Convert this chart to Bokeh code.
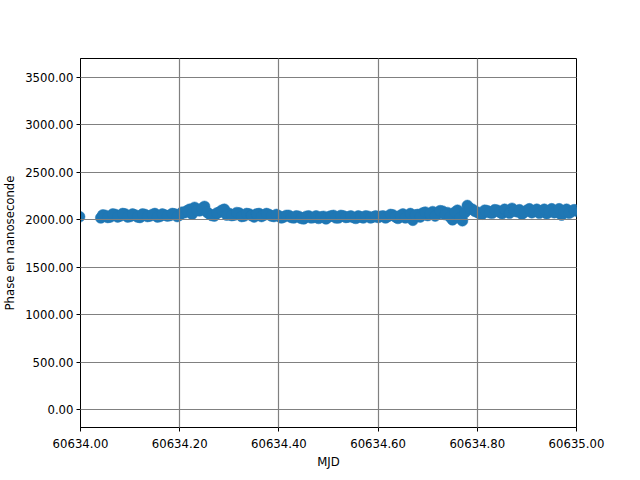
from bokeh.plotting import figure
from bokeh.models import Range1d, FixedTicker, PrintfTickFormatter, ColumnDataSource
from bokeh.embed import file_html
from bokeh.resources import INLINE

# MJD offsets (days after 60634) and phase values in nanoseconds
mjd_offsets = [-0.002,
    0.041, 0.050, 0.060, 0.070, 0.080, 0.090, 0.100, 0.110, 0.120, 0.130,
    0.140, 0.150, 0.160, 0.170, 0.180, 0.190, 0.200, 0.210, 0.220, 0.230,
    0.240, 0.250, 0.260, 0.270, 0.280, 0.290, 0.300, 0.310, 0.320, 0.330,
    0.340, 0.350, 0.360, 0.370, 0.380, 0.390, 0.400, 0.410, 0.420, 0.430,
    0.440, 0.450, 0.460, 0.470, 0.480, 0.490, 0.500, 0.510, 0.520, 0.530,
    0.540, 0.550, 0.560, 0.570, 0.580, 0.590, 0.600, 0.610, 0.620, 0.630,
    0.640, 0.650, 0.660, 0.670, 0.680, 0.690, 0.700, 0.710, 0.720, 0.730,
    0.740, 0.750, 0.760, 0.770, 0.780, 0.790, 0.800, 0.810, 0.820, 0.830,
    0.840, 0.850, 0.860, 0.870, 0.880, 0.890, 0.900, 0.910, 0.920, 0.930,
    0.940, 0.950, 0.960, 0.970, 0.980, 0.990, 1.000, 1.010]
phase_ns = [2032,
    2020, 2045, 2030, 2055, 2040, 2060, 2035, 2050, 2025, 2055,
    2040, 2065, 2035, 2050, 2045, 2060, 2050, 2075, 2110, 2130,
    2095, 2140, 2060, 2040, 2080, 2110, 2065, 2050, 2070, 2040,
    2060, 2030, 2065, 2050, 2055, 2035, 2040, 2030, 2045, 2020,
    2035, 2010, 2040, 2025, 2015, 2035, 2030, 2045, 2020, 2040,
    2030, 2025, 2040, 2020, 2035, 2030, 2025, 2040, 2035, 2050,
    2015, 2060, 2040, 1995, 2055, 2070, 2045, 2085, 2060, 2090,
    2075, 2000, 2100, 1990, 2150, 2110, 2080, 2060, 2095, 2070,
    2100, 2065, 2090, 2120, 2085, 2060, 2100, 2075, 2110, 2090,
    2065, 2115, 2080, 2050, 2110, 2085, 2100, 2090]

# intermediate samples (half-step between the above)
mjd_offsets_mid = [
    0.045, 0.055, 0.065, 0.075, 0.085, 0.095, 0.105, 0.115, 0.125, 0.135,
    0.145, 0.155, 0.165, 0.175, 0.185, 0.195, 0.205, 0.215, 0.225, 0.235,
    0.245, 0.255, 0.265, 0.275, 0.285, 0.295, 0.305, 0.315, 0.325, 0.335,
    0.345, 0.355, 0.365, 0.375, 0.385, 0.395, 0.405, 0.415, 0.425, 0.435,
    0.445, 0.455, 0.465, 0.475, 0.485, 0.495, 0.505, 0.515, 0.525, 0.535,
    0.545, 0.555, 0.565, 0.575, 0.585, 0.595, 0.605, 0.615, 0.625, 0.635,
    0.645, 0.655, 0.665, 0.675, 0.685, 0.695, 0.705, 0.715, 0.725, 0.735,
    0.745, 0.755, 0.765, 0.775, 0.785, 0.795, 0.805, 0.815, 0.825, 0.835,
    0.845, 0.855, 0.865, 0.875, 0.885, 0.895, 0.905, 0.915, 0.925, 0.935,
    0.945, 0.955, 0.965, 0.975, 0.985, 0.995, 1.005]
phase_ns_mid = [
    2050, 2025, 2060, 2030, 2065, 2030, 2060, 2030, 2060, 2035,
    2055, 2030, 2060, 2040, 2065, 2035, 2080, 2095, 2060, 2100,
    2120, 2080, 2045, 2070, 2100, 2050, 2045, 2075, 2035, 2065,
    2045, 2060, 2035, 2065, 2040, 2055, 2020, 2045, 2025, 2040,
    2015, 2035, 2020, 2040, 2030, 2010, 2040, 2020, 2045, 2025,
    2040, 2015, 2030, 2040, 2020, 2040, 2035, 2020, 2055, 2030,
    2045, 2020, 2065, 2050, 2030, 2080, 2060, 2040, 2095, 2055,
    2030, 2080, 2020, 2075, 2120, 2090, 2065, 2100, 2075, 2105,
    2080, 2110, 2070, 2095, 2105, 2080, 2115, 2095, 2070, 2110,
    2095, 2075, 2115, 2090, 2070, 2105, 2080]

mjd_base = 60634.0
x_ticks = [60634.0, 60634.2, 60634.4, 60634.6, 60634.8, 60635.0]
y_ticks = [0, 500, 1000, 1500, 2000, 2500, 3000, 3500]

mjd = [mjd_base + o for o in mjd_offsets + mjd_offsets_mid]
src = ColumnDataSource(data=dict(mjd=mjd, phase=phase_ns + phase_ns_mid))

FONT = "DejaVu Sans"
FS = "11.7px"

p = figure(frame_width=496, frame_height=369,
           min_border_left=77, min_border_right=59,
           min_border_top=58, min_border_bottom=45,
           x_range=Range1d(60634.0, 60635.0), y_range=Range1d(-190, 3700),
           output_backend="svg", toolbar_location=None)
p.background_fill_color = "white"
p.border_fill_color = "white"
p.outline_line_color = "black"
p.outline_line_width = 1

p.scatter("mjd", "phase", source=src, size=11, marker="circle",
          fill_color="#1f77b4", line_color="#1f77b4", line_width=0.5)

for ax in (p.xaxis[0], p.yaxis[0]):
    ax.major_tick_in = 0
    ax.major_tick_out = 4
    ax.minor_tick_in = 0
    ax.minor_tick_out = 0
    ax.axis_line_color = "black"
    ax.major_tick_line_color = "black"
    ax.major_label_text_font = FONT
    ax.major_label_text_font_size = FS
    ax.major_label_text_color = "black"
    ax.axis_label_text_font = FONT
    ax.axis_label_text_font_size = FS
    ax.axis_label_text_font_style = "normal"
    ax.axis_label_text_color = "black"
    ax.formatter = PrintfTickFormatter(format="%.2f")

p.xaxis[0].ticker = FixedTicker(ticks=x_ticks)
p.yaxis[0].ticker = FixedTicker(ticks=y_ticks)
p.xaxis[0].axis_label = "MJD"
p.yaxis[0].axis_label = "Phase en nanoseconde"
p.xaxis[0].major_label_standoff = 7
p.xaxis[0].axis_label_standoff = 4
p.yaxis[0].major_label_standoff = 3
p.yaxis[0].axis_label_standoff = 5

for g in (p.xgrid[0], p.ygrid[0]):
    g.grid_line_color = "#808080"
    g.grid_line_width = 1.2
    g.level = "overlay"
p.ygrid[0].ticker = FixedTicker(ticks=y_ticks)
p.xgrid[0].ticker = FixedTicker(ticks=x_ticks)

open("out.html", "w").write(file_html(p, INLINE))
